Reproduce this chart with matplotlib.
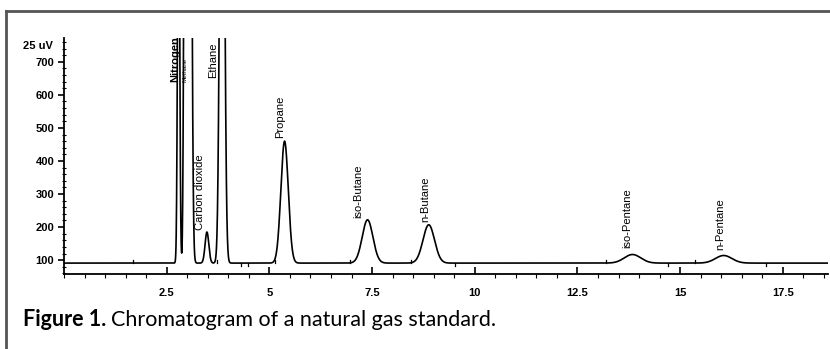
import numpy as np
import matplotlib
matplotlib.use("Agg")
import matplotlib.pyplot as plt
from matplotlib.lines import Line2D
from matplotlib.ticker import MultipleLocator

# Peak data (retention time in min, apex height in uV, width sigma in min)
compounds = ["Nitrogen", "Methane", "", "Carbon dioxide", "Ethane", "Propane",
             "iso-Butane", "n-Butane", "iso-Pentane", "n-Pentane"]
retention = [2.79, 2.94, 3.06, 3.48, 3.85, 5.37, 7.39, 8.88, 13.84, 16.06]
heights = [1400, 1500, 2600, 185, 2200, 460, 222, 207, 117, 114]
sigmas = [0.025, 0.025, 0.04, 0.045, 0.05, 0.09, 0.13, 0.14, 0.2, 0.2]
baseline_level = 91

# Integration event marks on the baseline (time, up=+1 / down=-1)
event_times = [1.67, 3.73, 4.30, 4.47, 5.13, 6.96, 8.44, 9.53, 13.2, 14.7, 15.37, 17.09]
event_dirs = [1, 1, -1, -1, 1, 1, 1, -1, 1, -1, 1, -1]

# Label anchors (x, bottom y) for each named peak
label_names = ["Nitrogen", "Methane", "Ethane", "Carbon dioxide", "Propane",
               "iso-Butane", "n-Butane", "iso-Pentane", "n-Pentane"]
label_x = [2.72, 2.95, 3.63, 3.31, 5.27, 7.17, 8.80, 13.72, 15.97]
label_y = [640, 640, 652, 190, 470, 227, 216, 136, 131]

yticks = [100, 200, 300, 400, 500, 600, 700]
xticks = [2.5, 5, 7.5, 10, 12.5, 15, 17.5]
xtick_labels = ["2.5", "5", "7.5", "10", "12.5", "15", "17.5"]

FAM = ["Liberation Sans", "DejaVu Sans"]

fig = plt.figure(figsize=(8.30, 3.49), dpi=100)
ax = fig.add_axes([64/830, 1-274/349, (828-64)/830, (274-38)/349])

t = np.linspace(0, 18.6, 6000)
signal = np.full_like(t, baseline_level, dtype=float)
for rt, h, s in zip(retention, heights, sigmas):
    signal += (h - baseline_level) * np.exp(-0.5 * ((t - rt) / s) ** 2)
ax.plot(t, signal, color="black", lw=1.2, solid_joinstyle="round")

for et, d in zip(event_times, event_dirs):
    ax.plot([et, et], [baseline_level, baseline_level + d * 9], color="black", lw=0.9)

ax.set_xlim(0, 18.6)
ax.set_ylim(58, 772)

for sp in ["top", "right"]:
    ax.spines[sp].set_visible(False)
ax.spines["left"].set_linewidth(1.3)
ax.spines["bottom"].set_linewidth(1.3)

ax.set_yticks(yticks)
ax.yaxis.set_minor_locator(MultipleLocator(20))
ax.set_xticks(xticks)
ax.set_xticklabels(xtick_labels)
ax.xaxis.set_minor_locator(MultipleLocator(0.5))
ax.tick_params(axis="y", which="major", direction="out", length=4, width=1.2,
               labelsize=8, pad=3)
ax.tick_params(axis="y", which="minor", direction="inout", length=3, width=0.8)
ax.tick_params(axis="x", which="major", direction="in", length=5, width=1.2,
               labelsize=8, pad=10)
ax.tick_params(axis="x", which="minor", direction="out", length=3, width=0.8)
for lab in ax.get_xticklabels() + ax.get_yticklabels():
    lab.set_fontweight("bold")
    lab.set_family(FAM)

ax.text(-0.28, 748, "25 uV", ha="right", va="center", fontsize=8,
        fontweight="bold", family=FAM)

for name, lx, ly in zip(label_names, label_x, label_y):
    fs = 4.5 if name == "Methane" else 8
    ax.text(lx, ly, name, rotation=90, ha="center", va="bottom", fontsize=fs,
            fontweight="bold" if name == "Nitrogen" else "medium",
            family=FAM)

# Outer frame (left and top edges)
fig.add_artist(Line2D([6/830, 6/830], [0, 1-11/349], color="#555555", lw=2))
fig.add_artist(Line2D([6/830, 1], [1-11/349, 1-11/349], color="#555555", lw=2))

CAP = ["Lato", "DejaVu Sans"]
t1 = fig.text(23/830, 1-320/349, "Figure 1.", fontsize=15.5, fontweight="bold",
              va="center", ha="left", family=CAP)
fig.canvas.draw()
bb = t1.get_window_extent(renderer=fig.canvas.get_renderer())
fig.text((bb.x1 + 5) / 830, 1-320/349, "Chromatogram of a natural gas standard.",
         fontsize=15.5, va="center", ha="left", family=CAP)

fig.savefig("out.png", dpi=100)
